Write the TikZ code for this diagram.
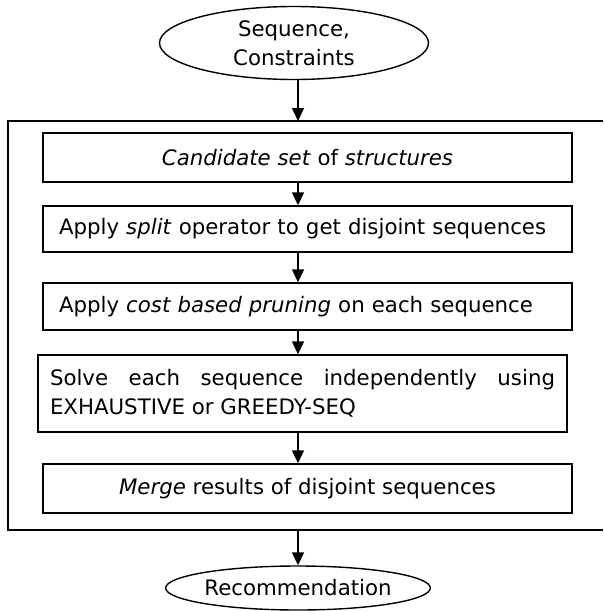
\documentclass[tikz,border=0pt]{standalone}
\usepackage{fontspec}
\setmainfont{DejaVu Sans}
\usetikzlibrary{arrows.meta, positioning, shapes.geometric}

\begin{document}
\begin{tikzpicture}[
    x=1pt, y=-1pt,
    every node/.style={font=\fontsize{21.3}{29}\selectfont},
    sb/.style={draw, line width=1.4pt, minimum width=529pt, inner sep=0pt},
    lb/.style={sb, align=left, text width=497pt},
    ov/.style={draw, ellipse, line width=1.4pt, inner sep=0pt, align=center},
    a/.style={-{Triangle[length=13pt, width=12pt]}, line width=1.4pt},
    fr/.style={line width=1.4pt}
]
\useasboundingbox (0,0) rectangle (603,611);
\coordinate (ftl)  at (8,121);
\coordinate (fbr)  at (603,530);
\coordinate (axis) at (298,0);
\node[ov, minimum width=269pt, minimum height=73pt] (src) at (294,43) {Sequence,\\Constraints};
\node[sb, minimum height=49pt] (cand)  at (307.5,157.5) {\textit{Candidate set} of \textit{structures}};
\node[lb, minimum height=46pt] (split) at (307.5,229)   {Apply \textit{split} operator to get disjoint sequences};
\node[lb, minimum height=47pt] (prune) at (307.5,306.5) {Apply \textit{cost based pruning} on each sequence};
\node[sb, align=justify, text width=505pt, minimum height=77pt] (solve) at (302.5,393.5) {Solve each sequence independently using\linebreak EXHAUSTIVE or GREEDY-SEQ};
\node[sb, minimum height=49pt] (merge) at (307.5,488.5) {\textit{Merge} results of disjoint sequences};
\node[ov, minimum width=245pt, minimum height=44pt] (rec) at (298,588) {Recommendation};
\draw[fr] (fbr |- ftl) -- (ftl) |- (fbr);
\draw[a] (src.south -| axis)   -- (ftl -| axis);
\draw[a] (cand.south -| axis)  -- (split.north -| axis);
\draw[a] (split.south -| axis) -- (prune.north -| axis);
\draw[a] (prune.south -| axis) -- (solve.north -| axis);
\draw[a] (solve.south -| axis) -- (merge.north -| axis);
\draw[a] (fbr -| axis) -- (rec.north);
\end{tikzpicture}
\end{document}
